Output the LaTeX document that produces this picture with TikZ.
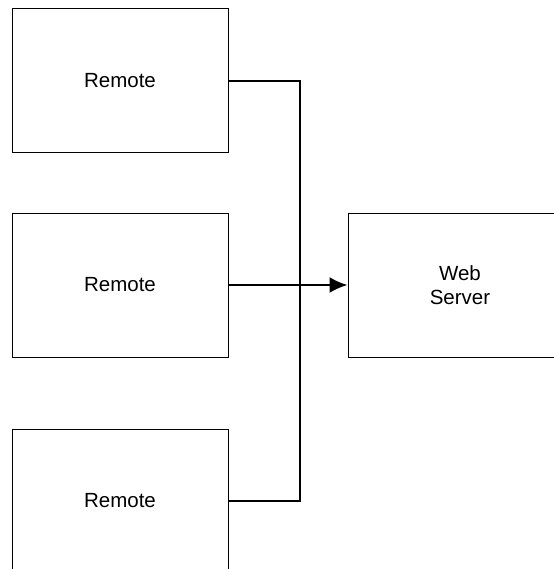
\documentclass[tikz,border=0pt]{standalone}
\usepackage{fontspec}
\setmainfont{Liberation Sans}
\usepackage{tikz}
\usetikzlibrary{arrows.meta}
\usetikzlibrary{positioning}

\begin{document}
\begin{tikzpicture}[x=1pt, y=1pt,
    box/.style={draw, line width=1pt, minimum width=216pt, minimum height=144pt, inner sep=0pt, align=center, font=\fontsize{20.5}{24}\selectfont},
    link/.style={line width=2pt}]
    \useasboundingbox (0,0) rectangle (553,-569);

    \node[box] (remA) at (120,-81) {Remote};
    \node[box] (remB) at (120,-285) {Remote};
    \node[box] (remC) at (120,-501) {Remote};
    \node[box, minimum width=224pt] (web) at (460,-285) {Web\\Server};

    \coordinate (bus) at (300,-285);
    \draw[link] (remA.east) -| (bus) |- (remC.east);
    \draw[link, -{Latex[length=18pt, width=16pt]}] (remB.east) -- (web.west);
  \end{tikzpicture}
\end{document}
